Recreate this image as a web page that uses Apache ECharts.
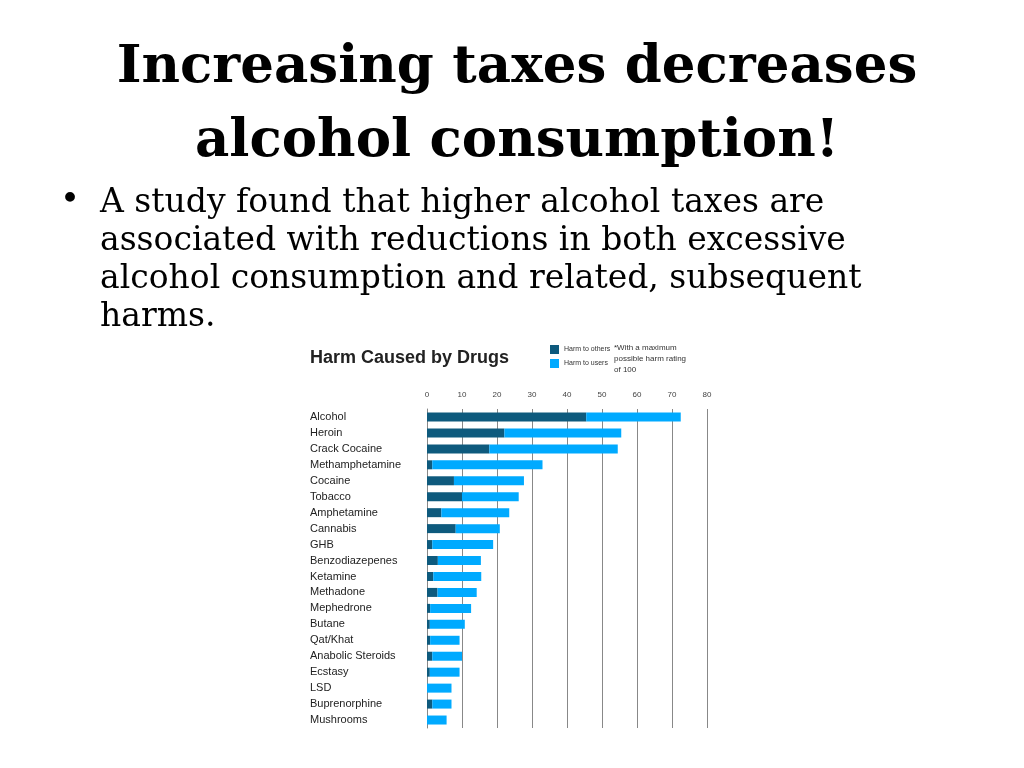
<!DOCTYPE html>
<html><head><meta charset="utf-8">
<script src="https://cdn.jsdelivr.net/npm/echarts@6/dist/echarts.min.js"></script>
<style>html,body{margin:0;background:#fff}#main{width:1024px;height:768px}</style>
</head><body><div id="main"></div>
<script>
var drugs = ['Alcohol','Heroin','Crack Cocaine','Methamphetamine','Cocaine','Tobacco','Amphetamine','Cannabis','GHB','Benzodiazepenes','Ketamine','Methadone','Mephedrone','Butane','Qat/Khat','Anabolic Steroids','Ecstasy','LSD','Buprenorphine','Mushrooms'];
var harmOthers = [45.5,22.1,17.8,1.5,7.7,10,4.1,8.2,1.5,3.1,1.8,3,0.9,0.8,0.9,1.5,0.8,0,1.5,0];
var harmUsers = [27,33.4,36.7,31.5,20,16.2,19.4,12.6,17.4,12.3,13.7,11.2,11.7,10,8.4,8.5,8.5,7,5.5,5.6];
var ticks = [0,10,20,30,40,50,60,70,80];

var chart = echarts.init(document.getElementById('main'));
var serif = 'DejaVu Serif';
chart.setOption({
    animation:false,
    title:[
        {text:'Increasing taxes decreases\nalcohol consumption!',left:512,top:26,textAlign:'center',
         textStyle:{fontFamily:serif,fontWeight:'bold',fontSize:53,lineHeight:74,color:'#000'}},
        {text:'Harm Caused by Drugs',left:305,top:344,textStyle:{fontFamily:'Liberation Sans',fontWeight:'bold',fontSize:18,color:'#222'}},
        {text:'*With a maximum\npossible harm rating\nof 100',left:609,top:337,textStyle:{fontFamily:'Liberation Sans',fontWeight:'normal',fontSize:8,lineHeight:11,color:'#333'}}
    ],
    graphic:[
        {type:'text',left:60,top:184,style:{text:'\u2022',font:'34px '+serif,fill:'#000'}},
        {type:'text',left:100,top:184,style:{text:'A study found that higher alcohol taxes are\nassociated with reductions in both excessive\nalcohol consumption and related, subsequent\nharms.',font:'33px '+serif,lineHeight:38,fill:'#000'}}
    ],
    legend:{left:545,top:340,orient:'vertical',itemWidth:9,itemHeight:9,itemGap:5,icon:'rect',
        textStyle:{fontFamily:'Liberation Sans',fontSize:7,color:'#333'},data:['Harm to others','Harm to users']},
    grid:{left:427,right:1024-707,top:409,bottom:768-728},
    xAxis:{type:'value',position:'top',min:0,max:80,interval:10,
        axisLine:{show:false},axisTick:{show:false},
        axisLabel:{fontFamily:'Liberation Sans',fontSize:8,color:'#444',margin:10,
            formatter:function(v){return ticks.indexOf(v)>=0?String(v):'';}},
        splitLine:{lineStyle:{color:'#888',width:1}}},
    yAxis:{type:'category',inverse:true,data:drugs,
        axisLine:{show:true,lineStyle:{color:'#888'}},axisTick:{show:false},
        axisLabel:{align:'left',margin:117,fontFamily:'Liberation Sans',fontSize:11,color:'#222'}},
    series:[
        {name:'Harm to others',type:'bar',stack:'h',data:harmOthers,barWidth:9,itemStyle:{color:'#0e5a7d'}},
        {name:'Harm to users',type:'bar',stack:'h',data:harmUsers,barWidth:9,itemStyle:{color:'#00aaff'}}
    ]
});
</script></body></html>
